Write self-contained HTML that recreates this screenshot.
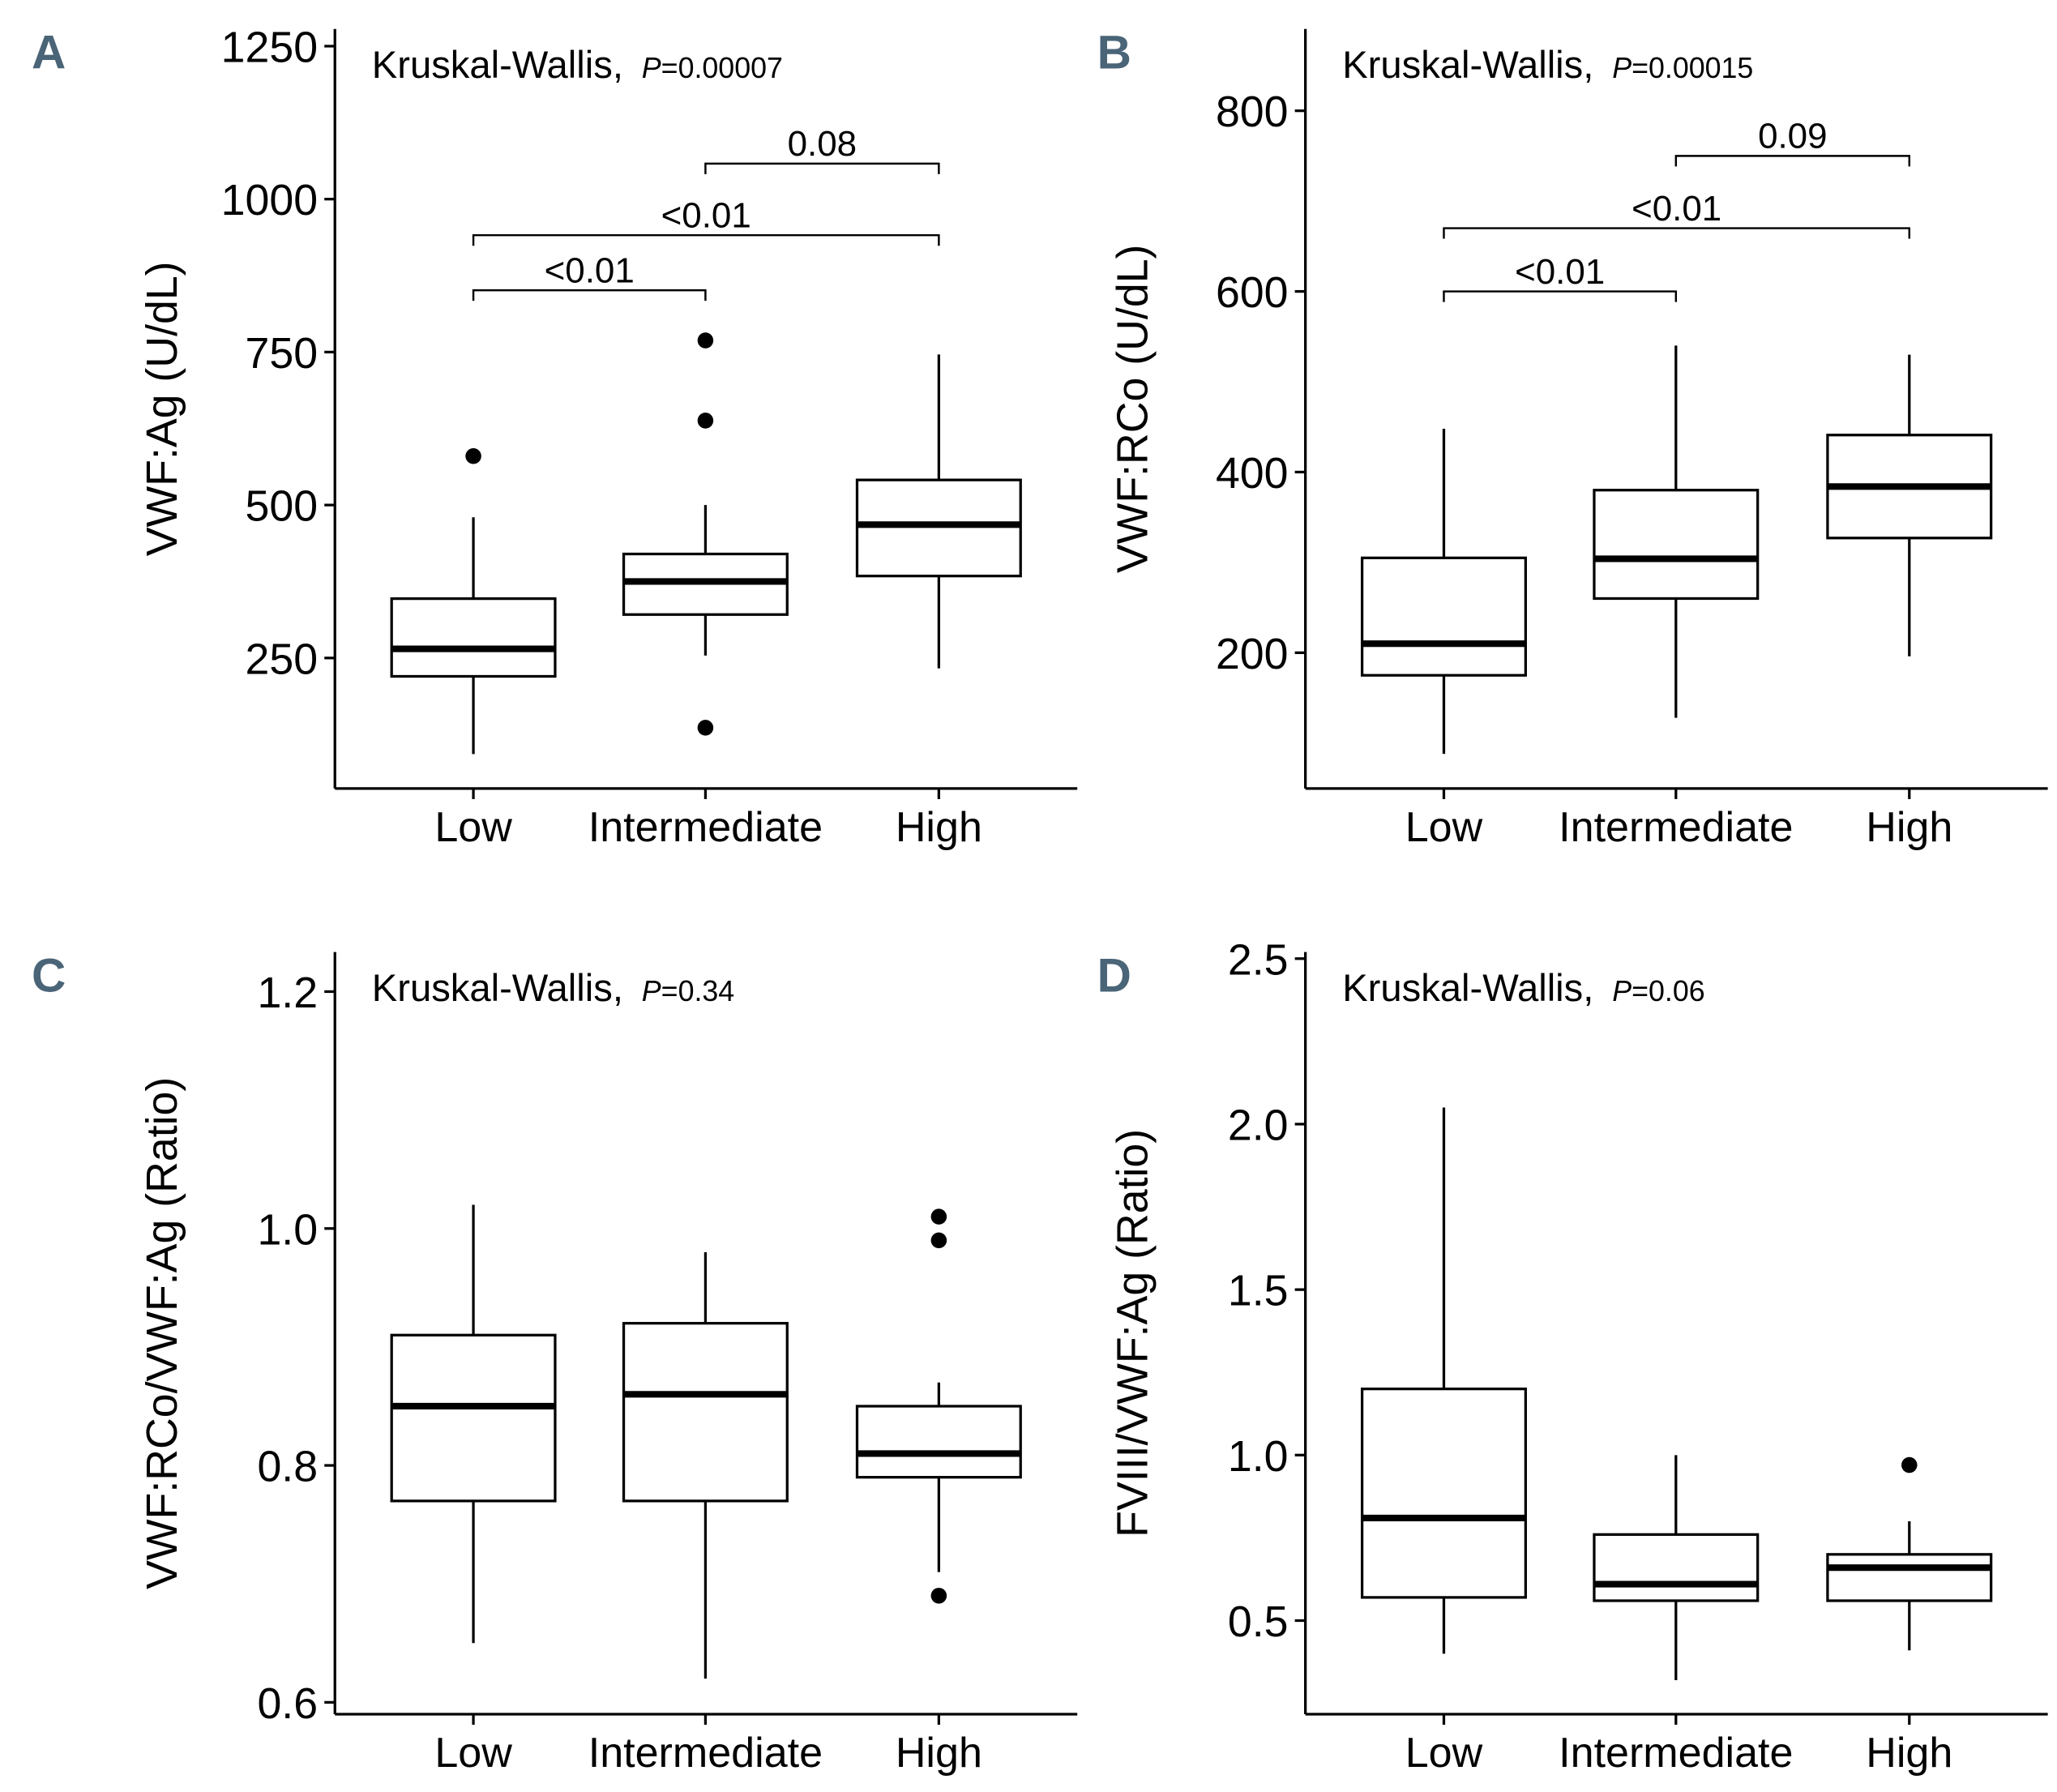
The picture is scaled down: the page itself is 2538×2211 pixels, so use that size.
<!DOCTYPE html>
<html><head><meta charset="utf-8"><style>
html,body{margin:0;padding:0;background:#fff}
svg{display:block}
text{font-family:"Liberation Sans",Arial,sans-serif;fill:#000}
</style></head><body>
<svg id="chart" width="2538" height="2211" viewBox="0 0 1560 1359" xmlns="http://www.w3.org/2000/svg"></svg>
<script>
const categories = ["Low","Intermediate","High"];
// Panel A: VWF:Ag
const aTicks = [250,500,750,1000,1250];
const aLower = [93,254,233], aQ1=[220,321,384], aMed=[265,375,468], aQ3=[347,420,541], aUpper=[480,500,746];
const aOutliers = [[580],[136,638,769],[]];
const aBrackets = [[0,1,851,"<0.01"],[0,2,941,"<0.01"],[1,2,1058,"0.08"]];
// Panel B: VWF:RCo
const bTicks = [200,400,600,800];
const bLower=[88,128,196], bQ1=[175,260,327], bMed=[210,304,384], bQ3=[305,380,441], bUpper=[448,540,530];
const bOutliers=[[],[],[]];
const bBrackets = [[0,1,600,"<0.01"],[0,2,670,"<0.01"],[1,2,750,"0.09"]];
// Panel C: ratio
const cTicks=[0.6,0.8,1.0,1.2];
const cLower=[0.65,0.62,0.71], cQ1=[0.77,0.77,0.79], cMed=[0.85,0.86,0.81], cQ3=[0.91,0.92,0.85], cUpper=[1.02,0.98,0.87];
const cOutliers=[[],[],[1.01,0.99,0.69]];
// Panel D: FVIII ratio
const dTicks=[0.5,1.0,1.5,2.0,2.5];
const dLower=[0.40,0.32,0.41], dQ1=[0.57,0.56,0.56], dMed=[0.81,0.61,0.66], dQ3=[1.20,0.76,0.70], dUpper=[2.05,1.00,0.80];
const dOutliers=[[],[],[0.97]];

const NS="http://www.w3.org/2000/svg";
const svg=document.getElementById('chart');
function el(tag,attrs,parent){const e=document.createElementNS(NS,tag);for(const k in attrs)e.setAttribute(k,attrs[k]);(parent||svg).appendChild(e);return e;}

function panel(p){
  const g=el('g',{});
  
  
  const y=v=>p.y0+(v-p.v0)*(p.y1-p.y0)/(p.v1-p.v0);
  const xs=[p.ax+105,p.ax+281,p.ax+458];
  const L=el('text',{x:p.lx,y:p.top+30,'font-size':36,'font-weight':'bold',style:'fill:#4a6478;font-family:"Liberation Sans Narrow","Liberation Sans",sans-serif'},g);
  L.textContent=p.letter;
  
  const ya=el('line',{x1:p.ax,x2:p.ax,y1:p.top,y2:p.bottom,stroke:'#000','stroke-width':2},g);
  
  const xa=el('line',{x1:p.ax,x2:p.ax+563,y1:p.bottom,y2:p.bottom,stroke:'#000','stroke-width':2},g);
  
  p.ticks.forEach(t=>{
    el('line',{x1:p.ax-8,x2:p.ax,y1:y(t),y2:y(t),stroke:'#000','stroke-width':2},g);
    const tx=el('text',{x:p.ax-13,y:y(t)+12,'font-size':33,'text-anchor':'end'},g);
    tx.textContent=p.fmt(t);
    
  });
  categories.forEach((c,i)=>{
    el('line',{x1:xs[i],x2:xs[i],y1:p.bottom,y2:p.bottom+8,stroke:'#000','stroke-width':2},g);
    const tx=el('text',{x:xs[i],y:p.bottom+40,'font-size':32,'text-anchor':'middle'},g);
    tx.textContent=c;
    
    const b=el('g',{},g);
    
    el('line',{x1:xs[i],x2:xs[i],y1:y(p.lower[i]),y2:y(p.q1[i]),stroke:'#000','stroke-width':2},b);
    el('line',{x1:xs[i],x2:xs[i],y1:y(p.q3[i]),y2:y(p.upper[i]),stroke:'#000','stroke-width':2},b);
    el('rect',{x:xs[i]-62,y:y(p.q3[i]),width:124,height:y(p.q1[i])-y(p.q3[i]),fill:'#fff',stroke:'#000','stroke-width':2},b);
    el('line',{x1:xs[i]-62,x2:xs[i]+62,y1:y(p.med[i]),y2:y(p.med[i]),stroke:'#000','stroke-width':5},b);
    p.out[i].forEach(o=>{const d=el('circle',{cx:xs[i],cy:y(o),r:6,fill:'#000'},b);});
  });
  (p.brackets||[]).forEach(br=>{
    const yy=y(br[2]),xa_=xs[br[0]],xb=xs[br[1]];
    const bg=el('g',{},g);
    
    el('path',{d:`M${xa_},${yy+8}V${yy}H${xb}V${yy+8}`,fill:'none',stroke:'#000','stroke-width':1.5},bg);
    const t=el('text',{x:(xa_+xb)/2,y:yy-6,'font-size':27,'text-anchor':'middle'},bg);t.textContent=br[3];
  });
  const kw=el('text',{x:p.ax+28,y:p.top+37,'font-size':29},g);
  
  kw.innerHTML='Kruskal-Wallis, <tspan font-size="22" font-style="italic" dx="6">P</tspan><tspan font-size="22">='+p.pval+'</tspan>';
  const cx=p.ax-120, cy=(p.top+p.bottom)/2;
  const at=el('text',{x:cx,y:cy,'font-size':33,'text-anchor':'middle',transform:`rotate(-90 ${cx} ${cy})`},g);
  at.textContent=p.title;
  
}
panel({letter:'A',lx:24,ax:254,top:22,bottom:598,y0:499,v0:250,y1:35,v1:1250,ticks:aTicks,fmt:t=>String(t),lower:aLower,q1:aQ1,med:aMed,q3:aQ3,upper:aUpper,out:aOutliers,brackets:aBrackets,pval:'0.00007',title:'VWF:Ag (U/dL)'});
panel({letter:'B',lx:832,ax:990,top:22,bottom:598,y0:495,v0:200,y1:84,v1:800,ticks:bTicks,fmt:t=>String(t),lower:bLower,q1:bQ1,med:bMed,q3:bQ3,upper:bUpper,out:bOutliers,brackets:bBrackets,pval:'0.00015',title:'VWF:RCo (U/dL)'});
panel({letter:'C',lx:24,ax:254,top:722,bottom:1300,y0:1291,v0:0.6,y1:752,v1:1.2,ticks:cTicks,fmt:t=>t.toFixed(1),lower:cLower,q1:cQ1,med:cMed,q3:cQ3,upper:cUpper,out:cOutliers,pval:'0.34',title:'VWF:RCo/VWF:Ag (Ratio)'});
panel({letter:'D',lx:832,ax:990,top:722,bottom:1300,y0:1229,v0:0.5,y1:727,v1:2.5,ticks:dTicks,fmt:t=>t.toFixed(1),lower:dLower,q1:dQ1,med:dMed,q3:dQ3,upper:dUpper,out:dOutliers,pval:'0.06',title:'FVIII/VWF:Ag (Ratio)'});
</script>
</body></html>
